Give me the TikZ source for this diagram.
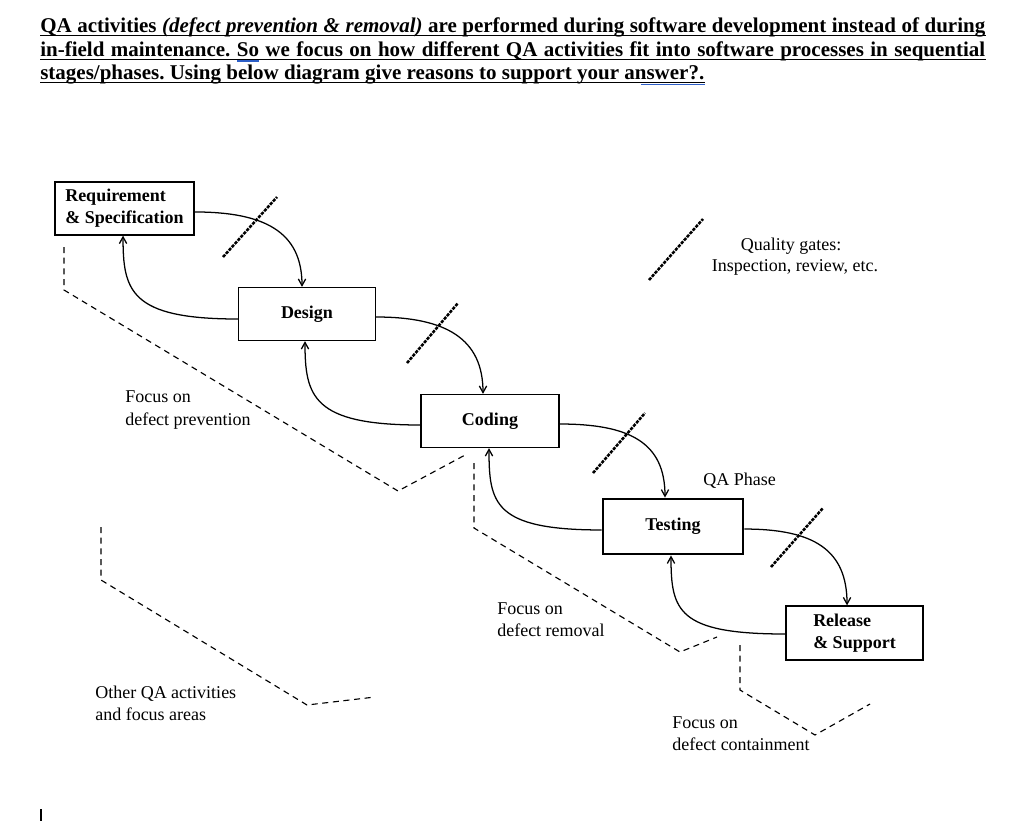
\documentclass[tikz,border=0pt]{standalone}
\usepackage{fontspec}
\setmainfont{Liberation Serif}
\usetikzlibrary{arrows.meta}
\definecolor{spellblue}{RGB}{45,95,200}
\frenchspacing
\begin{document}
\begin{tikzpicture}[x=0.75pt,y=-0.75pt,
  phase/.style={draw, line width=0.95pt, inner sep=0pt, align=left,
    font=\fontsize{13.5}{16.5}\selectfont\bfseries},
  flow/.style={line width=0.95pt, -{Straight Barb[length=5pt,width=5.5pt]}},
  gate/.style={line width=1.9pt, dash pattern=on 2.4pt off 0.9pt},
  focus/.style={line width=0.85pt, dash pattern=on 4.5pt off 3.5pt},
  lbl/.style={anchor=base west, inner sep=0pt, font=\fontsize{13.5}{16}\selectfont},
  clbl/.style={anchor=base, inner sep=0pt, font=\fontsize{13.5}{16}\selectfont},
  hdr/.style={anchor=base west, inner sep=0pt, font=\fontsize{15.75}{18}\selectfont\bfseries},
  uline/.style={line width=1.1pt},
  spell/.style={line width=1.3pt, spellblue}]
\useasboundingbox (0,0) rectangle (1024,822);

% ---------- header ----------
\node[hdr] (h1) at (40,32.5) {\makebox[708.75pt][s]{QA activities \textit{(defect prevention \& removal)} are performed during software development instead of during}};
\node[hdr] (h2) at (40,56.3) {\makebox[708.75pt][s]{in-field maintenance. So we focus on how different QA activities fit into software processes in sequential}};
\node[hdr] (h3) at (40,79.8) {stages/phases. Using below diagram give reasons to support your answer?.};
\draw[uline] ([yshift=-2.2pt]h1.base west) -- ([yshift=-2.2pt]h1.base east);
\draw[uline] ([yshift=-2.2pt]h2.base west) -- ([yshift=-2.2pt]h2.base east);
\draw[uline] ([yshift=-2.2pt]h3.base west) -- ([yshift=-2.2pt]h3.base east);
\draw[spell] (237,60.8) -- (259,60.8);
\draw[spell] ([yshift=-3.6pt]h3.base east) -- ++(-64,0);

% ---------- phases ----------
\node[phase, minimum width={139*0.75pt}, minimum height={53*0.75pt}] (req) at (124.5,208.5) {Requirement\\\& Specification};
\node[phase, minimum width={137*0.75pt}, minimum height={53*0.75pt}] (design) at (307,314) {Design};
\node[phase, minimum width={138*0.75pt}, minimum height={53*0.75pt}] (coding) at (490,421) {Coding};
\node[phase, line width=2.2pt, minimum width={140*0.75pt}, minimum height={55*0.75pt}] (testing) at (673,526.5) {Testing};
\node[phase, minimum width={137*0.75pt}, minimum height={54*0.75pt}] (release) at (854.5,633) {Release\\\& Support};

% ---------- forward flows ----------
\draw[flow] ([yshift=-2.6pt]req.east) .. controls +(70,0) and +(0,-55) .. ([xshift=-3.75pt]design.north);
\draw[flow] ([yshift=-2.25pt]design.east) .. controls +(70,0) and +(0,-55) .. ([xshift=-5.25pt]coding.north);
\draw[flow] ([yshift=-2.25pt]coding.east) .. controls +(70,0) and +(0,-55) .. ([xshift=-6pt]testing.north);
\draw[flow] ([yshift=-1.9pt]testing.east) .. controls +(70,0) and +(0,-55) .. ([xshift=-5.6pt]release.north);

% ---------- feedback flows ----------
\draw[flow] ([yshift=-3.75pt]design.west) .. controls +(-108,0) and +(0,55) .. ([xshift=-1.1pt]req.south);
\draw[flow] ([yshift=-3pt]coding.west) .. controls +(-108,0) and +(0,55) .. ([xshift=-1.5pt]design.south);
\draw[flow] ([yshift=-2.6pt]testing.west) .. controls +(-108,0) and +(0,55) .. ([xshift=-0.75pt]coding.south);
\draw[flow] ([yshift=-0.75pt]release.west) .. controls +(-108,0) and +(0,55) .. ([xshift=-1.5pt]testing.south);

% ---------- quality gates ----------
\draw[gate] (223,257) -- (277,197);
\draw[gate] (407,363) -- (458,303);
\draw[gate] (593,473) -- (645,413);
\draw[gate] (771,567) -- (823,508);
\draw[gate] (649,280) -- (703,219);

% ---------- focus areas ----------
\draw[focus] (64,247) -- (64,290) -- (398,491) -- (467,454);
\draw[focus] (474,463) -- (474,528) -- (680,652) -- (717,637);
\draw[focus] (740,645) -- (740,690) -- (815,735) -- (870,704);
\draw[focus] (101,527) -- (101,580) -- (307,705) -- (375,697);

% ---------- labels ----------
\node[clbl] (qg1) at (791,250) {Quality gates:};
\node[clbl] (qg2) at (795,271.7) {Inspection, review, etc.};
\node[lbl] (qa) at (703,485) {QA Phase};
\node[lbl] (fp1) at (125,402.5) {Focus on};
\node[lbl] (fp2) at (125,425.5) {defect prevention};
\node[lbl] (oq1) at (95,698.3) {Other QA activities};
\node[lbl] (oq2) at (95,720.7) {and focus areas};
\node[lbl] (fr1) at (497,614) {Focus on};
\node[lbl] (fr2) at (497,636.7) {defect removal};
\node[lbl] (fc1) at (672,728.3) {Focus on};
\node[lbl] (fc2) at (672,750.7) {defect containment};

% cursor bar
\draw[line width=0.9pt] (41,809) -- (41,821);
\end{tikzpicture}
\end{document}
